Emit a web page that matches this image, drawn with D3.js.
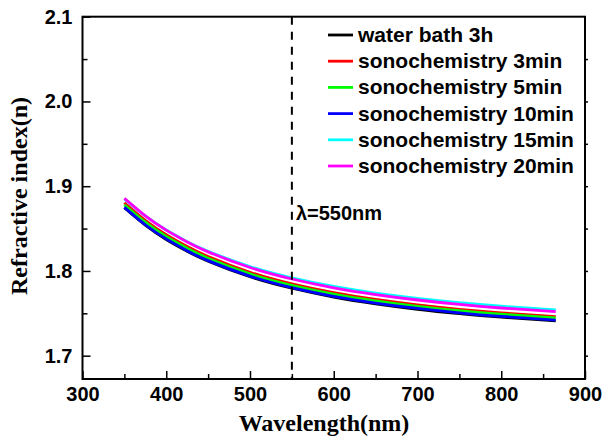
<!DOCTYPE html>
<html><head><meta charset="utf-8">
<script src="https://cdn.jsdelivr.net/npm/d3@7"></script>
<style>body{margin:0;background:#fff}svg{display:block}</style>
</head><body>
<svg id="c" width="609" height="441"></svg>
<script>
const wavelengths = [350,375,400,425,450,500,550,600,650,700,750,800,865];
const waterBath3h = [1.8745,1.8540,1.8371,1.8232,1.8115,1.7931,1.7796,1.7692,1.7612,1.7548,1.7497,1.7455,1.7410];
const sono3min   = [1.8805,1.8598,1.8428,1.8288,1.8170,1.7985,1.7848,1.7744,1.7663,1.7599,1.7547,1.7505,1.7460];
const sono5min   = [1.8780,1.8575,1.8406,1.8267,1.8150,1.7966,1.7831,1.7727,1.7647,1.7583,1.7532,1.7490,1.7445];
const sono10min  = [1.8750,1.8545,1.8378,1.8239,1.8122,1.7939,1.7804,1.7701,1.7621,1.7558,1.7506,1.7464,1.7420];
const sono15min  = [1.8851,1.8649,1.8483,1.8346,1.8232,1.8052,1.7918,1.7817,1.7738,1.7676,1.7625,1.7584,1.7541];
const sono20min  = [1.8857,1.8651,1.8482,1.8342,1.8225,1.8041,1.7905,1.7801,1.7721,1.7657,1.7605,1.7563,1.7519];
const seriesNames = ["water bath 3h","sonochemistry 3min","sonochemistry 5min","sonochemistry 10min","sonochemistry 15min","sonochemistry 20min"];
const seriesValues = [waterBath3h,sono3min,sono5min,sono10min,sono15min,sono20min];
const seriesColors = ["#000000","#ff0000","#00ff00","#0000ff","#00ffff","#ff00ff"];
const xTicks = [300,400,500,600,700,800,900];
const yTicks = [1.7,1.8,1.9,2.0,2.1];
const markerWavelength = 550;
const markerLabel = "λ=550nm";

const svg = d3.select("#c");
const L=82.5, R=585, T=16.7, B=379;
const x = d3.scaleLinear().domain([300,900]).range([L,R]);
const y = d3.scaleLinear().domain([1.6725,2.1]).range([B,T]);

const line = d3.line().x(d=>x(d[0])).y(d=>y(d[1])).curve(d3.curveNatural);
seriesValues.forEach((vals,i)=>{
  svg.append("path").datum(wavelengths.map((w,j)=>[w,vals[j]]))
    .attr("d",line).attr("fill","none").attr("stroke",seriesColors[i]).attr("stroke-width",2.8);
});

svg.append("line").attr("x1",x(markerWavelength)).attr("x2",x(markerWavelength))
  .attr("y1",T).attr("y2",B).attr("stroke","#000").attr("stroke-width",2).attr("stroke-dasharray","8,7");
svg.append("text").attr("x",x(markerWavelength)+4).attr("y",220)
  .attr("font-family","Liberation Sans, Arial, sans-serif").attr("font-weight","bold").attr("font-size",20)
  .text(markerLabel);

const fontT="Liberation Sans, Arial, sans-serif";
const xAxis = d3.axisBottom(x).tickValues(d3.range(300,901,50)).tickSize(-8).tickFormat(d=>xTicks.includes(d)?d:"").tickPadding(8);
const gx = svg.append("g").attr("transform",`translate(0,${B})`).call(xAxis);
gx.selectAll(".tick line").attr("y2",d=>xTicks.includes(d)?-8:-5);
const yAxis = d3.axisLeft(y).tickValues([1.7,1.75,1.8,1.85,1.9,1.95,2.0,2.05,2.1]).tickSize(-8)
  .tickFormat(d=>yTicks.some(t=>Math.abs(t-d)<1e-9)?d3.format(".1f")(d):"").tickPadding(10);
const gy = svg.append("g").attr("transform",`translate(${L},0)`).call(yAxis);
gy.selectAll(".tick line").attr("x2",d=>yTicks.some(t=>Math.abs(t-d)<1e-9)?8:5);
const gr = svg.append("g").attr("transform",`translate(${R},0)`).call(d3.axisRight(y).tickValues([1.7,1.75,1.8,1.85,1.9,1.95,2.0,2.05]).tickSize(3).tickFormat(""));
[gx,gy,gr].forEach(g=>{
  g.select(".domain").remove();
  g.selectAll(".tick line").attr("stroke","#000").attr("stroke-width",1.5);
  g.selectAll("text").attr("font-family",fontT).attr("font-weight","bold").attr("font-size",20).attr("fill","#000");
});
svg.append("rect").attr("x",L).attr("y",T).attr("width",R-L).attr("height",B-T)
  .attr("fill","none").attr("stroke","#000").attr("stroke-width",2);

svg.append("text").attr("x",324).attr("y",431).attr("text-anchor","middle")
  .attr("font-family","Liberation Serif, Times New Roman, serif").attr("font-weight","bold").attr("font-size",24)
  .text("Wavelength(nm)");
svg.append("text").attr("transform","translate(27,196) rotate(-90)").attr("text-anchor","middle")
  .attr("font-family","Liberation Serif, Times New Roman, serif").attr("font-weight","bold").attr("font-size",24)
  .text("Refractive index(n)");

const lg = svg.append("g");
seriesNames.forEach((n,i)=>{
  const yy = 35 + i*26.2;
  lg.append("line").attr("x1",328).attr("x2",353).attr("y1",yy).attr("y2",yy)
    .attr("stroke",seriesColors[i]).attr("stroke-width",2.8);
  lg.append("text").attr("x",358).attr("y",yy+7).attr("font-family",fontT).attr("font-weight","bold")
    .attr("font-size",21).text(n);
});
</script>
</body></html>
